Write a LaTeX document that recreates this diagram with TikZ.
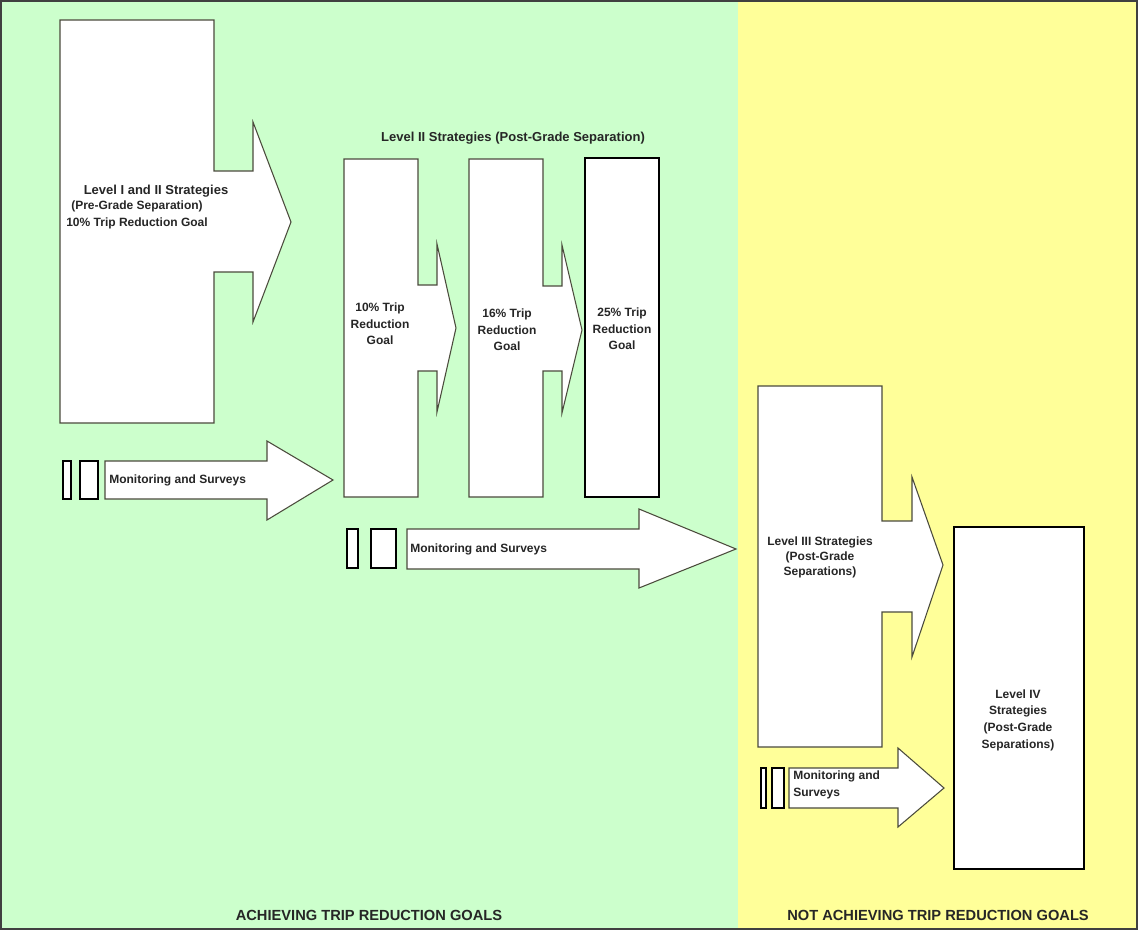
\documentclass[tikz,border=0pt]{standalone}
\usepackage{fontspec}
\setmainfont{Liberation Sans}
\definecolor{achieve}{RGB}{204,255,204}
\definecolor{notachieve}{RGB}{255,255,153}
\definecolor{outline}{RGB}{75,75,60}
\tikzset{
  blk/.style={draw=outline,fill=white,line width=0.8pt},
  darkblk/.style={draw=black,fill=white,line width=0.9pt},
  txt/.style={font=\bfseries\fontsize{9}{12.5}\selectfont,align=center,inner sep=0pt,text=black!85},
  bigtxt/.style={font=\bfseries\fontsize{9.75}{12}\selectfont,inner sep=0pt,text=black!85},
  foot/.style={font=\bfseries\fontsize{11}{13}\selectfont,inner sep=0pt,text=black!85}
}

\begin{document}
\begin{tikzpicture}[x=0.75pt,y=-0.75pt]
\useasboundingbox (0,0) rectangle (1138,930);
\fill[achieve] (2,2) rectangle (738,928);
\fill[notachieve] (738,2) rectangle (1136,928);
\draw[black!75,line width=1.5pt] (1,1) rectangle (1137,929);

\draw[blk] (60,20) -- (214,20) -- (214,171) -- (253,171) -- (253,122) -- (291,222) -- (253,322) -- (253,272) -- (214,272) -- (214,423) -- (60,423) -- cycle;
\draw[blk] (344,159) -- (418,159) -- (418,285) -- (437,285) -- (437,244) -- (456,328) -- (437,412) -- (437,371) -- (418,371) -- (418,497) -- (344,497) -- cycle;
\draw[blk] (469,159) -- (543,159) -- (543,286) -- (562,286) -- (562,245) -- (582,330) -- (562,413) -- (562,371) -- (543,371) -- (543,497) -- (469,497) -- cycle;
\draw[darkblk] (585,158) rectangle (659,497);
\draw[blk] (758,386) -- (882,386) -- (882,521) -- (912,521) -- (912,477) -- (943,565) -- (912,657) -- (912,612) -- (882,612) -- (882,747) -- (758,747) -- cycle;
\draw[darkblk] (954,527) rectangle (1084,869);

\draw[darkblk] (63,461) rectangle (71,499);
\draw[darkblk] (80,461) rectangle (98,499);
\draw[blk] (105,461) -- (267,461) -- (267,441) -- (333,480) -- (267,520) -- (267,499) -- (105,499) -- cycle;
\draw[darkblk] (347,529) rectangle (358,568);
\draw[darkblk] (371,529) rectangle (396,568);
\draw[blk] (407,529) -- (639,529) -- (639,509) -- (736,549) -- (639,588) -- (639,569) -- (407,569) -- cycle;
\draw[darkblk] (761,768) rectangle (766,808);
\draw[darkblk] (772,768) rectangle (784,808);
\draw[blk] (789,768) -- (898,768) -- (898,748) -- (944,788) -- (898,827) -- (898,808) -- (789,808) -- cycle;

\node[bigtxt] (levonetwo) at (156,191) {Level I and II Strategies};
\node[txt] (pregrade) at (137,206) {(Pre-Grade Separation)};
\node[txt] (goalten) at (137,223) {10\% Trip Reduction Goal};
\node[bigtxt] (levtwo) at (513,138) {Level II Strategies (Post-Grade Separation)};
\node[txt] (tripten) at (380,324) {10\% Trip\\Reduction\\Goal};
\node[txt] (tripsixteen) at (507,330) {16\% Trip\\Reduction\\Goal};
\node[txt] (triptwentyfive) at (622,329) {25\% Trip\\Reduction\\Goal};
\node[txt,font=\bfseries\fontsize{9}{11.25}\selectfont] (levthree) at (820,557) {Level III Strategies\\(Post-Grade\\Separations)};
\node[txt] (levfour) at (1018,720) {Level IV\\Strategies\\(Post-Grade\\Separations)};
\node[txt,anchor=west] (monone) at (109,480) {Monitoring and Surveys};
\node[txt,anchor=west] (montwo) at (410,549) {Monitoring and Surveys};
\node[txt,anchor=west,align=left] (monthree) at (793,785) {Monitoring and\\Surveys};
\node[foot] (achieving) at (369,915) {ACHIEVING TRIP REDUCTION GOALS};
\node[foot] (notachieving) at (938,915) {NOT ACHIEVING TRIP REDUCTION GOALS};
\end{tikzpicture}
\end{document}
